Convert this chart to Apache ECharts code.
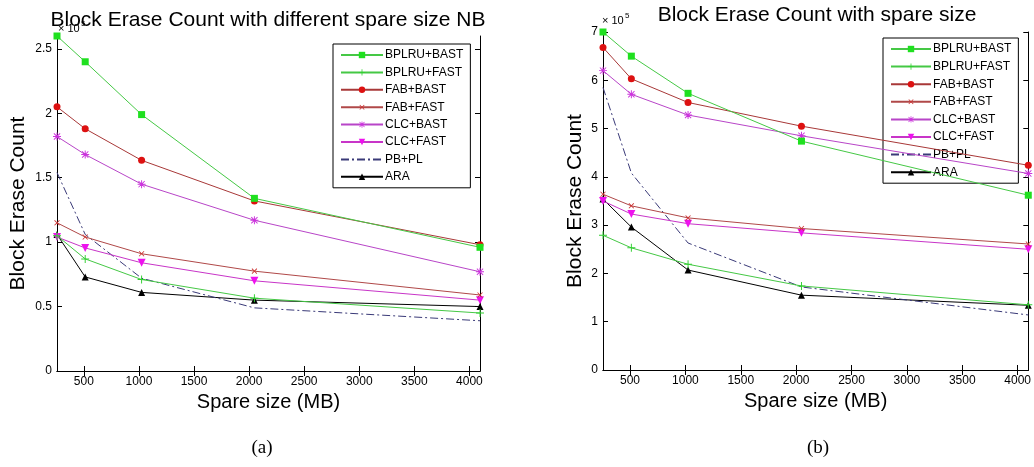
<!DOCTYPE html>
<html>
<head>
<meta charset="utf-8">
<script src="https://cdn.jsdelivr.net/npm/echarts@6/dist/echarts.min.js"></script>
<style>
html,body{margin:0;padding:0;background:#fff;}
#c{width:1034px;height:467px;}
</style>
</head>
<body>
<div id="c"></div>
<script>
// ---- data ----
const spareSize = [256, 512, 1024, 2048, 4096];
const xTicks = [500, 1000, 1500, 2000, 2500, 3000, 3500, 4000];
const yTicksA = [0, 0.5, 1, 1.5, 2, 2.5];
const yTicksB = [0, 1, 2, 3, 4, 5, 6, 7];
const seriesNames = ['BPLRU+BAST', 'BPLRU+FAST', 'FAB+BAST', 'FAB+FAST', 'CLC+BAST', 'CLC+FAST', 'PB+PL', 'ARA'];

// (a) values in units of 10^5
const bplruBastA = [2.60, 2.40, 1.99, 1.34, 0.96];
const bplruFastA = [1.05, 0.87, 0.71, 0.565, 0.45];
const fabBastA   = [2.05, 1.88, 1.635, 1.32, 0.98];
const fabFastA   = [1.15, 1.04, 0.91, 0.775, 0.59];
const clcBastA   = [1.82, 1.68, 1.45, 1.17, 0.77];
const clcFastA   = [1.04, 0.955, 0.84, 0.70, 0.55];
const pbplA      = [1.54, 1.06, 0.72, 0.49, 0.39];
const araA       = [1.06, 0.73, 0.61, 0.55, 0.50];

// (b) values in units of 10^5
const bplruBastB = [7.0, 6.5, 5.73, 4.74, 3.62];
const bplruFastB = [2.79, 2.53, 2.19, 1.74, 1.35];
const fabBastB   = [6.68, 6.03, 5.54, 5.05, 4.24];
const fabFastB   = [3.64, 3.40, 3.15, 2.93, 2.61];
const clcBastB   = [6.2, 5.71, 5.28, 4.85, 4.07];
const clcFastB   = [3.50, 3.23, 3.03, 2.84, 2.50];
const pbplB      = [5.85, 4.08, 2.63, 1.72, 1.14];
const araB       = [3.54, 2.96, 2.07, 1.55, 1.34];

const valuesA = [bplruBastA, bplruFastA, fabBastA, fabFastA, clcBastA, clcFastA, pbplA, araA];
const valuesB = [bplruBastB, bplruFastB, fabBastB, fabFastB, clcBastB, clcFastB, pbplB, araB];

// ---- styles ----
const plusPath = 'path://M4.4,0H5.6V4.4H10V5.6H5.6V10H4.4V5.6H0V4.4H4.4Z';
const starPath = 'path://M4.4,0H5.6V4.4H10V5.6H5.6V10H4.4V5.6H0V4.4H4.4Z' +
  'M1.5,0.7L5,4.2L8.5,0.7L9.3,1.5L5.8,5L9.3,8.5L8.5,9.3L5,5.8L1.5,9.3L0.7,8.5L4.2,5L0.7,1.5Z';
const styles = [
  {line: '#45c845', mark: '#1fe01f', symbol: 'rect', size: 7, rot: 0},
  {line: '#45c845', mark: '#30d030', symbol: plusPath, size: 8, rot: 0},
  {line: '#a83838', mark: '#dd1111', symbol: 'circle', size: 7, rot: 0},
  {line: '#b04848', mark: '#cc3333', symbol: plusPath, size: 7, rot: 45},
  {line: '#b845c8', mark: '#cc33dd', symbol: starPath, size: 8, rot: 0},
  {line: '#c835c8', mark: '#ee11ee', symbol: 'triangle', size: 8, rot: 180},
  {line: '#3a3a78', mark: '#3a3a78', symbol: 'circle', size: 0, rot: 0, dash: [8, 3, 2, 3], noMark: true},
  {line: '#000000', mark: '#000000', symbol: 'triangle', size: 7, rot: 0}
];

const FONT = 'Liberation Sans, Arial, Helvetica, sans-serif';

function makeSeries(vals, gridIdx) {
  return seriesNames.map((name, i) => ({
    name: name,
    type: 'line',
    xAxisIndex: gridIdx * 2,
    yAxisIndex: gridIdx * 2,
    data: spareSize.map((x, k) => [x, vals[i][k]]),
    symbol: styles[i].symbol,
    symbolSize: styles[i].size,
    symbolRotate: styles[i].rot,
    showSymbol: !styles[i].noMark,
    lineStyle: {color: styles[i].line, width: 1, type: styles[i].dash || 'solid'},
    itemStyle: {color: styles[i].mark},
    emphasis: {disabled: true},
    animation: false,
    z: 10 - i
  }));
}

function xAxes(gridIdx) {
  const base = {
    type: 'value', gridIndex: gridIdx, min: 256, max: 4096,
    axisLine: {show: true, lineStyle: {color: '#000', width: 1}},
    splitLine: {show: false}
  };
  return [
    Object.assign({}, base, {
      position: 'bottom',
      axisTick: {show: true, inside: true, length: 5, customValues: xTicks, lineStyle: {color: '#000'}},
      axisLabel: {show: true, customValues: xTicks, margin: 5, fontSize: 12, color: '#000', fontFamily: FONT,
        formatter: v => String(v)},
      name: 'Spare size (MB)', nameLocation: 'middle', nameGap: 21,
      nameTextStyle: {fontSize: 20, color: '#000', fontFamily: FONT}
    }),
    Object.assign({}, base, {
      position: 'top',
      axisTick: {show: true, inside: true, length: 5, customValues: xTicks, lineStyle: {color: '#000'}},
      axisLabel: {show: false}
    })
  ];
}

function yAxes(gridIdx, max, ticks, gap) {
  const base = {
    type: 'value', gridIndex: gridIdx, min: 0, max: max,
    axisLine: {show: true, lineStyle: {color: '#000', width: 1}},
    splitLine: {show: false}
  };
  return [
    Object.assign({}, base, {
      position: 'left',
      axisTick: {show: true, inside: true, length: 5, customValues: ticks, lineStyle: {color: '#000'}},
      axisLabel: {show: true, customValues: ticks, margin: 5, fontSize: 12, color: '#000', fontFamily: FONT,
        formatter: v => String(v)},
      name: 'Block Erase Count', nameLocation: 'middle', nameGap: gap,
      nameTextStyle: {fontSize: 21, color: '#000', fontFamily: FONT}
    }),
    Object.assign({}, base, {
      position: 'right',
      axisTick: {show: true, inside: true, length: 5, customValues: ticks, lineStyle: {color: '#000'}},
      axisLabel: {show: false}
    })
  ];
}

function legendAt(left, top, gap, iw) {
  return {
    data: seriesNames.map((n, i) => styles[i].noMark
      ? {name: n, itemStyle: {opacity: 0, color: 'rgba(0,0,0,0)'}}
      : {name: n}),
    orient: 'vertical',
    left: left, top: top,
    padding: [4, 7, 4, 7],
    itemGap: gap,
    itemWidth: iw,
    itemHeight: 8,
    backgroundColor: '#fff',
    borderColor: '#000',
    borderWidth: 1,
    borderRadius: 0,
    selectedMode: false,
    textStyle: {fontSize: 12, color: '#000', fontFamily: FONT, lineHeight: 14, padding: [0, 0, 0, -3]}
  };
}

function txt(text, x, y, font, align) {
  return {
    type: 'text', silent: true, z: 100,
    style: {text: text, x: x, y: y, font: font, fill: '#000',
      textAlign: align || 'center', textVerticalAlign: 'middle',
      align: align || 'center', verticalAlign: 'middle'}
  };
}

const option = {
  backgroundColor: '#fff',
  animation: false,
  grid: [
    {left: 57, top: 36, width: 423, height: 335, containLabel: false},
    {left: 603, top: 32, width: 428, height: 338, containLabel: false}
  ],
  xAxis: xAxes(0).concat(xAxes(1)),
  yAxis: yAxes(0, 2.6, yTicksA, 28).concat(yAxes(1, 7, yTicksB, 17)),
  legend: [legendAt(333, 44, 3.4, 42), legendAt(883, 38, 3.6, 40)],
  series: makeSeries(valuesA, 0).concat(makeSeries(valuesB, 1)),
  graphic: [
    txt('× 10', 58, 29, '11px ' + FONT, 'left'),
    txt('5', 81, 24, '8px ' + FONT, 'left'),
    txt('× 10', 602, 21, '11px ' + FONT, 'left'),
    txt('5', 625, 16, '8px ' + FONT, 'left'),
    txt('Block Erase Count with different spare size NB', 268, 20, '21px ' + FONT),
    txt('Block Erase Count with spare size', 817, 15, '21px ' + FONT),
    txt('(a)', 262, 448, '19px Liberation Serif, Times New Roman, serif'),
    txt('(b)', 818, 448, '19px Liberation Serif, Times New Roman, serif')
  ]
};

const chart = echarts.init(document.getElementById('c'), null, {renderer: 'canvas'});
chart.setOption(option);
</script>
</body>
</html>
